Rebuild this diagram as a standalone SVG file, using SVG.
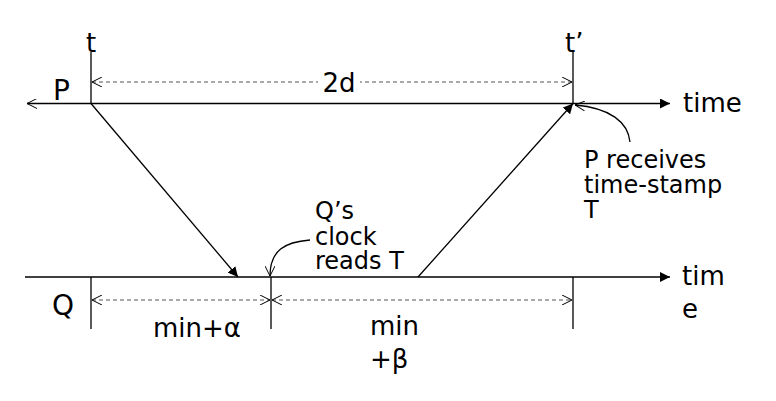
<svg xmlns="http://www.w3.org/2000/svg" width="776" height="401" viewBox="0 0 776 401">
<style>
text{font-family:"DejaVu Sans",sans-serif;font-size:24px;fill:#000}
.big{font-size:26px}
.pq{font-size:28px}
.ln{stroke:#000;stroke-width:1.3;fill:none}
.dash{stroke:#555;stroke-width:1.2;stroke-dasharray:4 3;fill:none}
</style>
<defs>
<marker id="fill" viewBox="0 0 10 10" refX="10" refY="5" markerWidth="10" markerHeight="10" markerUnits="userSpaceOnUse" orient="auto"><path d="M0,0 L10,5 L0,10 z" fill="#000"/></marker>
<marker id="open" viewBox="0 0 10 10" refX="10" refY="5" markerWidth="10" markerHeight="10" markerUnits="userSpaceOnUse" orient="auto-start-reverse"><path d="M0,0 L10,5 L0,10" fill="none" stroke="#000" stroke-width="1"/></marker>
</defs>
<rect width="776" height="401" fill="#fff"/>
<g id="connectors">
<line class="ln" x1="91" y1="103.5" x2="27" y2="103.5" marker-end="url(#open)"/>
<line class="ln" x1="91" y1="103.5" x2="670" y2="103.5" marker-end="url(#fill)"/>
<line class="ln" x1="25" y1="277" x2="670" y2="277" marker-end="url(#fill)"/>
<line class="ln" x1="91" y1="52" x2="91" y2="104"/>
<line class="ln" x1="573" y1="52" x2="573" y2="104"/>
<line class="ln" x1="91" y1="277" x2="91" y2="329"/>
<line class="ln" x1="271" y1="277" x2="271" y2="329"/>
<line class="ln" x1="573" y1="277" x2="573" y2="329"/>
<line class="ln" x1="91" y1="103.5" x2="238" y2="277" marker-end="url(#fill)"/>
<line class="ln" x1="418" y1="277" x2="573" y2="103.5" marker-end="url(#fill)"/>
<line class="dash" x1="92" y1="82" x2="572" y2="82" marker-start="url(#open)" marker-end="url(#open)"/>
<line class="dash" x1="92" y1="300" x2="270" y2="300" marker-start="url(#open)" marker-end="url(#open)"/>
<line class="dash" x1="272" y1="300" x2="572" y2="300" marker-start="url(#open)" marker-end="url(#open)"/>
<path class="ln" d="M630,142 C628,122 610,108 575,105" marker-end="url(#open)" stroke-width="1"/>
<path class="ln" d="M310,240 C285,242 270,250 270,276" marker-end="url(#open)" stroke-width="1"/>
</g>
<g id="label-2d"><rect x="318" y="68" width="42" height="26" fill="#fff"/><text class="big" x="339" y="92" text-anchor="middle">2d</text></g>
<g id="label-t"><text class="big" x="86" y="52">t</text></g>
<g id="label-t2"><text class="big" x="565" y="52">t’</text></g>
<g id="label-P"><text class="pq" x="53" y="100">P</text></g>
<g id="label-Q"><text class="pq" x="52" y="315">Q</text></g>
<g id="label-time1"><text class="big" x="683" y="112">time</text></g>
<g id="label-time2"><text class="big" x="682" y="285">tim</text><text class="big" x="682" y="318">e</text></g>
<g id="label-receive"><text x="584" y="168">P receives</text><text x="584" y="193">time-stamp</text><text x="584" y="218">T</text></g>
<g id="label-clock"><text x="315" y="219">Q’s</text><text x="315" y="245">clock</text><text x="315" y="269">reads T</text></g>
<g id="label-alpha"><text class="big" x="197" y="337" text-anchor="middle">min+α</text></g>
<g id="label-beta"><text class="big" x="370" y="335">min</text><text class="big" x="370" y="368">+β</text></g>
</svg>
